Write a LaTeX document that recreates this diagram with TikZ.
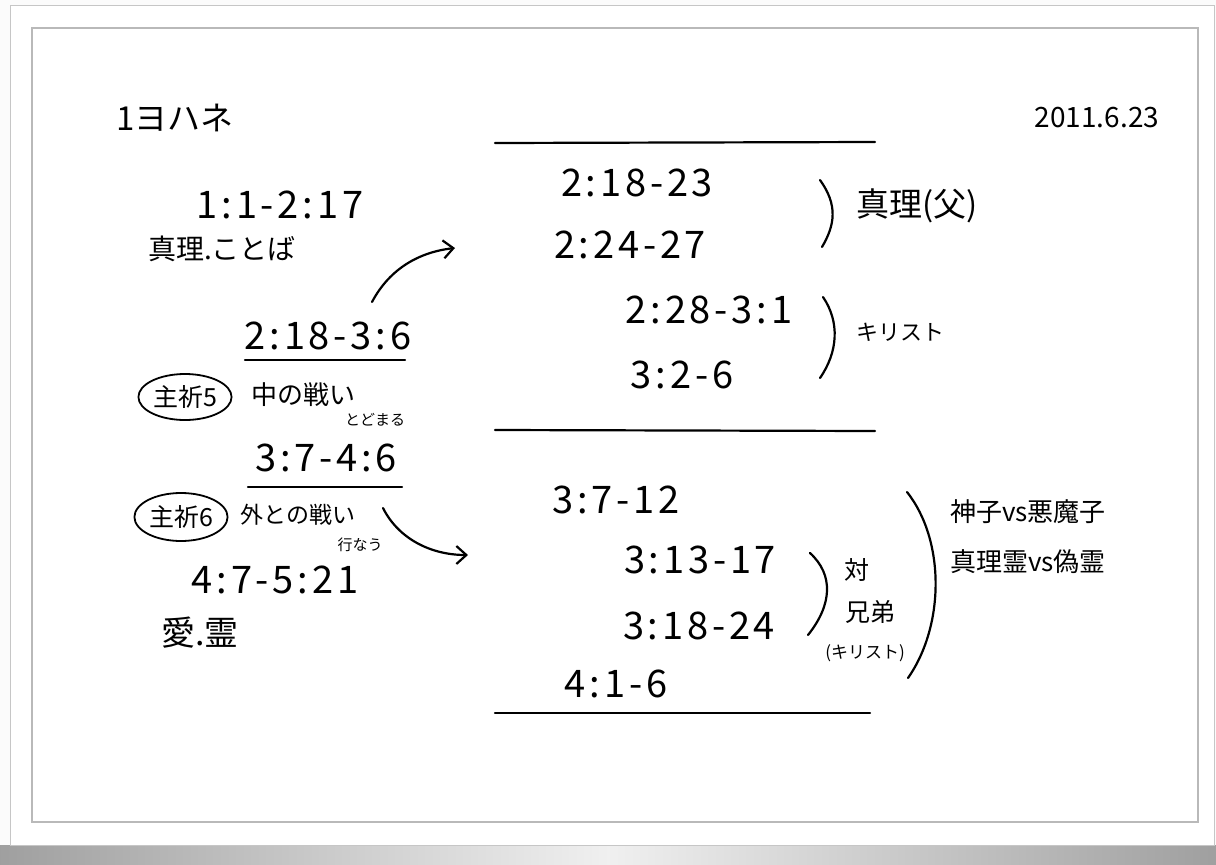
\documentclass[tikz,border=0pt]{standalone}
\usepackage{fontspec}
\setmainfont{Noto Sans CJK JP}
\newfontfamily\numfont[LetterSpace=10]{Noto Sans CJK JP}
\usetikzlibrary{arrows.meta,shapes.geometric}
\tikzset{
  num/.style={font=\numfont\fontsize{38}{40}\selectfont, inner sep=0pt},
  jp/.style={font=\fontsize{24}{26}\selectfont, inner sep=0pt},
  small/.style={font=\fontsize{15}{16}\selectfont, inner sep=0pt},
  ink/.style={line width=2.2pt, line cap=round},
  arr/.style={ink, -{Straight Barb[length=10pt,width=18pt,line width=2.2pt]}},
  circ/.style={draw, ellipse, line width=1.8pt, inner sep=1pt, font=\fontsize{25}{26}\selectfont}
}
\begin{document}
\begin{tikzpicture}[x=1pt,y=-1pt]
\useasboundingbox (0,0) rectangle (1216,865);
% page and frame
\fill[gray!3] (0,0) rectangle (1216,865);
\shade[left color=gray!75, right color=gray!12] (0,845) rectangle (608,865);
\shade[left color=gray!12, right color=gray!75] (608,845) rectangle (1216,865);
\draw[gray!45, fill=white, line width=1pt] (10,5) rectangle (1214,845);
\draw[gray!55, line width=1.5pt] (32,28) rectangle (1198,822);

% left column
\node[jp, font=\fontsize{33}{34}\selectfont] (title) at (175,118) {1ヨハネ};
\node[jp, font=\fontsize{28}{30}\selectfont] (date) at (1097,118) {2011.6.23};
\node[num] (n1) at (280,205) {1:1-2:17};
\node[jp, font=\fontsize{28}{30}\selectfont] (t1) at (222,249) {真理.ことば};
\node[num] (n2) at (328,336) {2:18-3:6};
\draw[ink] (245,360) -- (405,360);
\node[circ, minimum width=85pt, minimum height=46pt] (c5) at (185,397) {主祈5};
\node[jp, font=\fontsize{26}{28}\selectfont] (t2) at (303,395) {中の戦い};
\node[small] (t2s) at (375,420) {とどまる};
\node[num] (n3) at (326,458) {3:7-4:6};
\draw[ink] (248,487) -- (402,487);
\node[circ, minimum width=78pt, minimum height=48pt] (c6) at (181,517) {主祈6};
\node[jp, font=\fontsize{23}{26}\selectfont] (t3) at (298,515) {外との戦い};
\node[small] (t3s) at (360,545) {行なう};
\node[num] (n4) at (275,580) {4:7-5:21};
\node[jp, font=\fontsize{34}{36}\selectfont] (t4) at (200,633) {愛.霊};

% right block
\draw[ink] (495,143) -- (875,142);
\draw[ink] (495,430) -- (875,431);
\draw[ink] (495,713) -- (870,713);

\node[num] (r1) at (637,183) {2:18-23};
\node[num] (r2) at (630,245) {2:24-27};
\node[num] (r3) at (709,310) {2:28-3:1};
\node[num] (r4) at (682,375) {3:2-6};
\node[num] (r5) at (616,500) {3:7-12};
\node[num] (r6) at (700,560) {3:13-17};
\node[num] (r7) at (699,626) {3:18-24};
\node[num] (r8) at (616,684) {4:1-6};

% brackets
\draw[ink] (820,180) .. controls (838,205) and (835,225) .. (822,247);
\draw[ink] (823,297) .. controls (840,322) and (838,352) .. (820,378);
\draw[ink] (810,553) .. controls (834,575) and (832,605) .. (808,635);
\draw[ink] (907,492) .. controls (945,540) and (945,625) .. (908,678);

\node[jp, font=\fontsize{33}{34}\selectfont] (b1) at (917,206) {真理(父)};
\node[jp, font=\fontsize{22}{24}\selectfont] (b2) at (900,332) {キリスト};
\node[jp, font=\fontsize{25}{26}\selectfont] (b3a) at (857,570) {対};
\node[jp, font=\fontsize{25}{26}\selectfont] (b3b) at (870,612) {兄弟};
\node[small, font=\fontsize{17}{18}\selectfont] (b3c) at (865,653) {(キリスト)};
\node[jp, font=\fontsize{26}{28}\selectfont] (b4a) at (1028,512) {神子vs悪魔子};
\node[jp, font=\fontsize{26}{28}\selectfont] (b4b) at (1028,562) {真理霊vs偽霊};

% arrows
\coordinate (a1s) at (372,302);
\coordinate (a1e) at (455,248);
\coordinate (a2s) at (383,508);
\coordinate (a2e) at (468,555);
\draw[arr] (a1s) .. controls (390,268) and (420,252) .. (a1e);
\draw[arr] (a2s) .. controls (398,538) and (430,555) .. (a2e);
\end{tikzpicture}
\end{document}
